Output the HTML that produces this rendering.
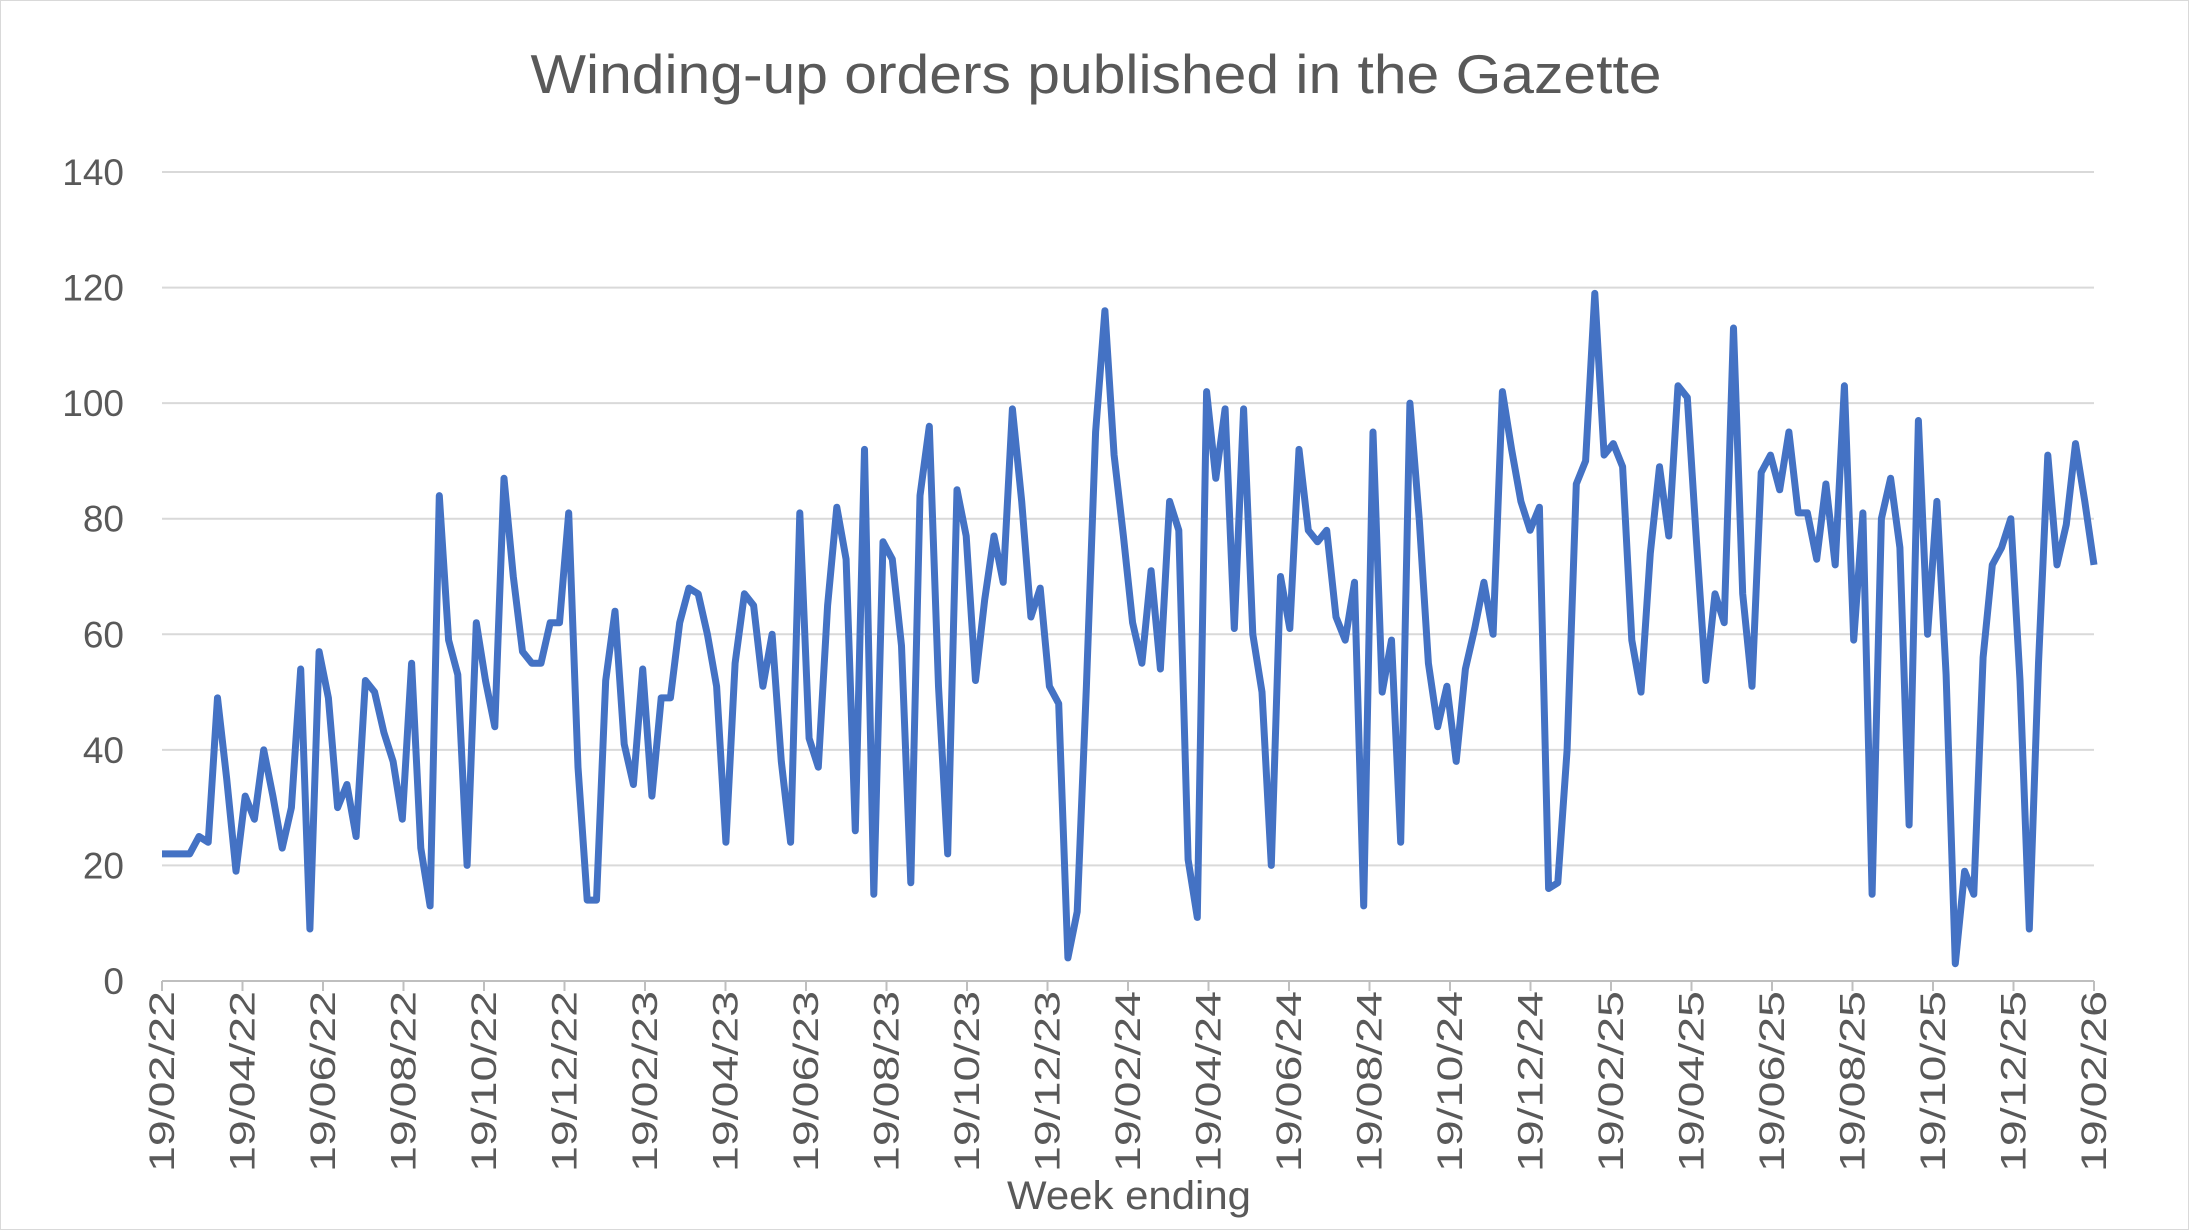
<!DOCTYPE html>
<html><head><meta charset="utf-8"><style>
body{margin:0;background:#fff}
svg{display:block}
text{font-family:"Liberation Sans",sans-serif;fill:#595959}
</style></head><body>
<svg id="c" width="2189" height="1230" viewBox="0 0 2189 1230" xmlns="http://www.w3.org/2000/svg">
<rect x="0.5" y="0.5" width="2188" height="1229" fill="#fff" stroke="#d9d9d9"/>
<text x="1096" y="93" font-size="55" text-anchor="middle" textLength="1131" lengthAdjust="spacingAndGlyphs">Winding-up orders published in the Gazette</text>
<g id="grid"></g>
<g id="lab"></g>
<text x="1129" y="1209" font-size="40" text-anchor="middle" textLength="244" lengthAdjust="spacingAndGlyphs">Week ending</text>
<polyline id="line" fill="none" stroke="#4472c4" stroke-width="7" stroke-linejoin="round"/>
</svg>
<script>
var d=[22,22,22,22,25,24,49,35,19,32,28,40,32,23,30,54,9,57,49,30,34,25,52,50,43,38,28,55,23,13,84,59,53,20,62,52,44,87,70,57,55,55,62,62,81,37,14,14,52,64,41,34,54,32,49,49,62,68,67,60,51,24,55,67,65,51,60,38,24,81,42,37,65,82,73,26,92,15,76,73,58,17,84,96,51,22,85,77,52,66,77,69,99,83,63,68,51,48,4,12,51,95,116,91,77,62,55,71,54,83,78,21,11,102,87,99,61,99,60,50,20,70,61,92,78,76,78,63,59,69,13,95,50,59,24,100,80,55,44,51,38,54,61,69,60,102,92,83,78,82,16,17,40,86,90,119,91,93,89,59,50,74,89,77,103,101,76,52,67,62,113,67,51,88,91,85,95,81,81,73,86,72,103,59,81,15,80,87,75,27,97,60,83,53,3,19,15,56,72,75,80,52,9,55,91,72,79,93,83,72];
var x0=162,x1=2094,y0=981,y140=172,ns="http://www.w3.org/2000/svg";
function Y(v){return y0-(y0-y140)*v/140}
var g=document.getElementById('grid'),l=document.getElementById('lab');
for(var v=0;v<=140;v+=20){var ln=document.createElementNS(ns,'line');ln.setAttribute('x1',x0);ln.setAttribute('x2',x1);ln.setAttribute('y1',Y(v));ln.setAttribute('y2',Y(v));ln.setAttribute('stroke',v?'#d9d9d9':'#bfbfbf');ln.setAttribute('stroke-width',2);g.appendChild(ln);
var t=document.createElementNS(ns,'text');t.setAttribute('x',124);t.setAttribute('y',Y(v)+13);t.setAttribute('font-size',37);t.setAttribute('text-anchor','end');t.textContent=v;l.appendChild(t);}
var yrs=['22','23','24','25'],ms=['02','04','06','08','10','12'],labs=[];
yrs.forEach(function(y){ms.forEach(function(m){labs.push('19/'+m+'/'+y)})});labs.push('19/02/26');
labs.forEach(function(s,i){var x=x0+(x1-x0)*i/24;var tk=document.createElementNS(ns,'line');tk.setAttribute('x1',x);tk.setAttribute('x2',x);tk.setAttribute('y1',y0);tk.setAttribute('y2',y0+10);tk.setAttribute('stroke','#bfbfbf');tk.setAttribute('stroke-width',2);g.appendChild(tk);
var t=document.createElementNS(ns,'text');t.setAttribute('font-size',35);t.setAttribute('text-anchor','end');t.setAttribute('textLength',181);t.setAttribute('lengthAdjust','spacingAndGlyphs');t.setAttribute('transform','translate('+(x+12)+','+(y0+10)+') rotate(-90)');t.textContent=s;l.appendChild(t);});
var p=d.map(function(v,i){return (x0+(x1-x0)*i/(d.length-1)).toFixed(1)+','+Y(v).toFixed(1)}).join(' ');
document.getElementById('line').setAttribute('points',p);
</script>
</body></html>
